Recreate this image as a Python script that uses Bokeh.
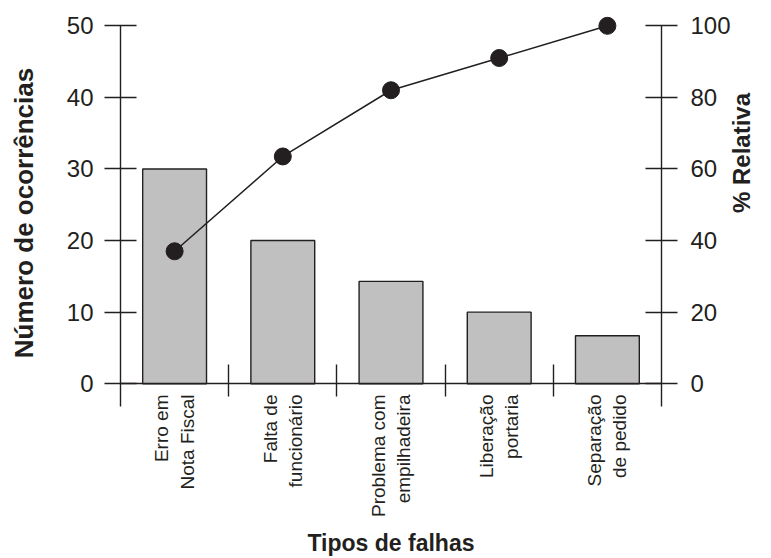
import math
from bokeh.plotting import figure
from bokeh.models import Range1d, LinearAxis, FixedTicker
from bokeh.embed import file_html
from bokeh.resources import INLINE

# ---- data ----
categories = ["Erro em\nNota Fiscal", "Falta de\nfuncionário", "Problema com\nempilhadeira",
              "Liberação\nportaria", "Separação\nde pedido"]
occurrences = [30, 20, 14.3, 10, 6.7]
cumulative_pct = [37, 63.5, 82, 91, 100]
left_ticks = [0, 10, 20, 30, 40, 50]
right_ticks = [0, 20, 40, 60, 80, 100]
x_title = "Tipos de falhas"
y_title = "Número de ocorrências"
y2_title = "% Relativa"

INK = "#231f20"
FONT = "Liberation Sans"

xc = [i + 0.5 for i in range(len(categories))]
separators = [i for i in range(1, len(categories))]

p = figure(width=771, height=558, output_backend="svg", toolbar_location=None,
           x_range=Range1d(0, len(categories)), y_range=Range1d(-4.3, 52),
           x_axis_location=None, y_axis_location=None,
           min_border_left=120, min_border_right=110, min_border_top=11, min_border_bottom=143)
p.outline_line_color = None
p.grid.grid_line_color = None
p.background_fill_color = "white"
p.border_fill_color = "white"
p.extra_y_ranges = {"pct": Range1d(-8.6, 104)}

def style_axis(ax):
    ax.axis_line_color = INK
    ax.axis_line_width = 1.4
    ax.major_tick_line_color = INK
    ax.major_tick_line_width = 1.4
    ax.minor_tick_line_color = None
    ax.major_label_text_font = FONT
    ax.major_label_text_color = INK
    ax.major_label_text_font_size = "24px"
    ax.axis_label_text_font = FONT
    ax.axis_label_text_font_style = "bold"
    ax.axis_label_text_color = INK
    ax.axis_label_text_font_size = "24px"

# left axis
ya = LinearAxis(ticker=FixedTicker(ticks=left_ticks), bounds=(-3.2, 50), axis_label=y_title)
style_axis(ya)
ya.major_tick_in = 16
ya.major_tick_out = 16
ya.major_label_standoff = 11
ya.axis_label_standoff = 25
ya.axis_label_text_font_size = "26px"
p.add_layout(ya, "left")

# right axis
ya2 = LinearAxis(y_range_name="pct", ticker=FixedTicker(ticks=right_ticks), bounds=(-6.4, 100),
                 axis_label=y2_title, axis_label_orientation=math.pi / 2)
style_axis(ya2)
ya2.major_tick_in = 16
ya2.major_tick_out = 16
ya2.major_label_standoff = 13
ya2.axis_label_standoff = 8
p.add_layout(ya2, "right")

# baseline with separator ticks between categories, at y = 0
xa = LinearAxis(ticker=FixedTicker(ticks=[], minor_ticks=separators), fixed_location=0)
style_axis(xa)
xa.major_tick_line_color = None
xa.major_tick_in = 0
xa.major_tick_out = 0
xa.major_label_standoff = 0
xa.major_label_text_color = None
xa.minor_tick_line_color = INK
xa.minor_tick_line_width = 1.4
xa.minor_tick_in = 19
xa.minor_tick_out = 13
p.add_layout(xa, "below")

# category labels and axis title
xl = LinearAxis(ticker=FixedTicker(ticks=xc), axis_label=x_title,
                major_label_overrides={c: lab for c, lab in zip(xc, categories)})
style_axis(xl)
xl.axis_line_color = None
xl.major_tick_line_color = None
xl.major_tick_in = 0
xl.major_tick_out = 0
xl.major_label_orientation = math.pi / 2
xl.major_label_text_font_size = "19px"
xl.major_label_standoff = -20
xl.axis_label_standoff = 10
xl.axis_label_text_font_size = "23px"
p.add_layout(xl, "below")

# bars
p.vbar(x=xc, top=occurrences, bottom=0, width=0.59, fill_color="#c0c0c0",
       line_color=INK, line_width=1.4)

# cumulative line
p.line(xc, cumulative_pct, y_range_name="pct", line_color=INK, line_width=1.5)
p.scatter(xc, cumulative_pct, y_range_name="pct", size=17, fill_color=INK, line_color=INK)

open("out.html", "w").write(file_html(p, INLINE))
